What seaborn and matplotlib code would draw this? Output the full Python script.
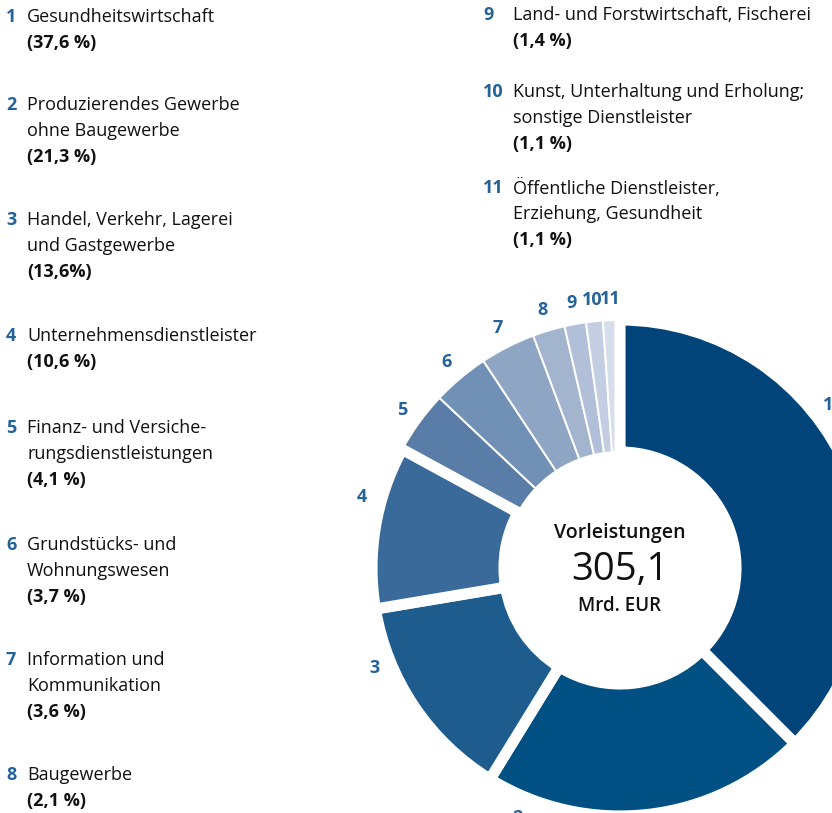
"""
Donut chart: Vorleistungen nach Wirtschaftsbereichen (305,1 Mrd. EUR)
"""

import matplotlib
matplotlib.use("Agg")  # no display
import matplotlib.pyplot as plt
from matplotlib import font_manager as fm
import seaborn as sns

# --- data -----------------------------------------------------------
numbers = [str(i) for i in range(1, 12)]
categories = [
    "Gesundheitswirtschaft",
    "Produzierendes Gewerbe\nohne Baugewerbe",
    "Handel, Verkehr, Lagerei\nund Gastgewerbe",
    "Unternehmensdienstleister",
    "Finanz- und Versiche-\nrungsdienstleistungen",
    "Grundstücks- und\nWohnungswesen",
    "Information und\nKommunikation",
    "Baugewerbe",
    "Land- und Forstwirtschaft, Fischerei",
    "Kunst, Unterhaltung und Erholung;\nsonstige Dienstleister",
    "Öffentliche Dienstleister,\nErziehung, Gesundheit",
]
shares = [37.6, 21.3, 13.6, 10.6, 4.1, 3.7, 3.6, 2.1, 1.4, 1.1, 1.1]
total_label = "305,1"
center_title = "Vorleistungen"
center_unit = "Mrd. EUR"

colors = ["#00447a", "#005083", "#1e5c8e", "#396a99", "#5a7da8", "#7190b5",
          "#8fa5c4", "#a3b4cf", "#b1bfd8", "#c4cee2", "#d6ddeb"]
NUM_BLUE = "#24629a"

# --- layout (pixels, 832 x 813) --------------------------------------
W, H = 832, 813
CX, CY, R, R_IN = 620, 568, 248, 116
left_rows = [17, 105, 220, 336, 428, 545, 660, 775]
right_rows = [15, 92, 188]
LINE = 26
# numbers of the four big sectors sit off their mid angle in the original
label_pos = {0: (828, 405), 1: (517, 818), 2: (374, 668), 3: (362, 497)}


def fx(px):
    return px / W


def fy(py):
    return 1 - py / H


def pct_text(i, v):
    s = f"{v:.1f}".replace(".", ",")
    return f"({s}%)" if i == 2 else f"({s} %)"


def pick_family(candidates):
    # first family that actually ships a bold face
    for name in candidates:
        weights = [f.weight for f in fm.fontManager.ttflist if f.name == name]
        if any(w in ("bold", 700, "700") or (isinstance(w, int) and w >= 600)
               for w in weights):
            return name
    return "DejaVu Sans"


sns.set_theme(style="white")
FAMILY = pick_family(["Noto Sans", "Open Sans", "Lato", "Roboto", "Liberation Sans"])
plt.rcParams["font.family"] = [FAMILY, "DejaVu Sans"]

fig = plt.figure(figsize=(W / 100, H / 100), dpi=100)
ax = fig.add_axes([0, 0, 1, 1])

wedges, texts = ax.pie(
    shares, colors=colors, labels=numbers, startangle=90, counterclock=False,
    radius=1.0, labeldistance=1.085,
    wedgeprops=dict(width=1 - R_IN / R, edgecolor="white", linewidth=1.4),
    textprops=dict(color=NUM_BLUE, fontsize=13, fontweight="bold"),
)
# big sectors get wider white gaps
for w in wedges[:4]:
    w.set_linewidth(8)
    w.set_zorder(3)

for i, t in enumerate(texts):
    t.set_ha("center")
    if i in label_pos:
        px, py = label_pos[i]
        t.set_position(((px - CX) / R, (CY - py) / R))

ax.set_xlim(-CX / R, (W - CX) / R)
ax.set_ylim(-(H - CY) / R, CY / R)
ax.set_aspect("auto")
ax.axis("off")

# centre text
fig.text(fx(CX), fy(533), center_title, ha="center", va="center",
         fontsize=14, fontweight="semibold", color="#111111")
fig.text(fx(CX), fy(570), total_label, ha="center", va="center",
         fontsize=27.5, color="#111111")
fig.text(fx(CX), fy(606), center_unit, ha="center", va="center",
         fontsize=13.5, fontweight="semibold", color="#111111")

# legend lists
for i, (num, name, v) in enumerate(zip(numbers, categories, shares)):
    if i < len(left_rows):
        y0, xn, xt = left_rows[i], 6, 27
    else:
        y0, xn, xt = right_rows[i - len(left_rows)], 483, 513
    fig.text(fx(xn), fy(y0), num, ha="left", va="center", fontsize=13,
             fontweight="bold", color=NUM_BLUE)
    lines = name.split("\n") + [pct_text(i, v)]
    for j, line in enumerate(lines):
        bold = j == len(lines) - 1
        fig.text(fx(xt), fy(y0 + j * LINE), line, ha="left", va="center",
                 fontsize=13, fontweight="bold" if bold else "normal",
                 color="#111111")

plt.savefig("out.png", dpi=100)
plt.close()
